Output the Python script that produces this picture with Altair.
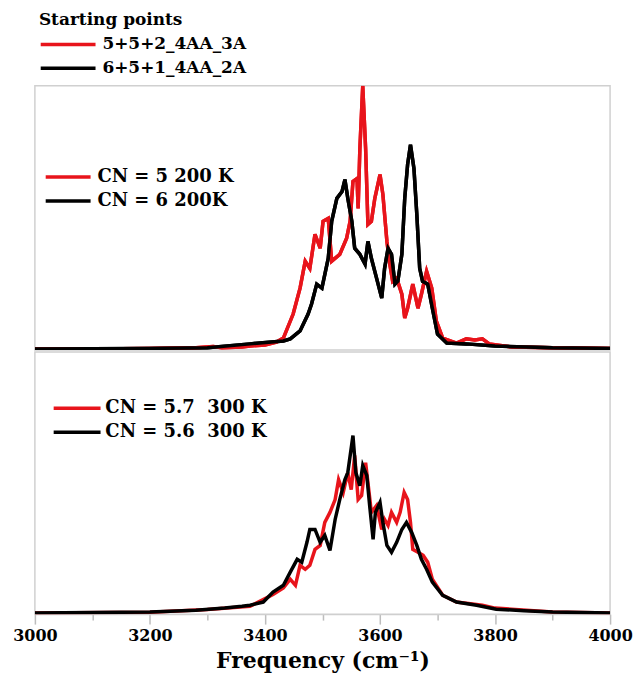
import altair as alt
import pandas as pd

RED = "#e8141b"
BLACK = "#000000"
FONT = "DejaVu Serif"

# ---- data ----
top_red_freq = [3000, 3100, 3200, 3280, 3310, 3325, 3360, 3374, 3400, 3420, 3432, 3449, 3461, 3470, 3478,
                3487, 3496, 3501, 3510, 3516, 3530, 3542, 3548, 3553, 3560, 3562, 3565, 3570, 3575,
                3579, 3585, 3591, 3600, 3605, 3612, 3617, 3622, 3629, 3638, 3643, 3648, 3657, 3666,
                3672, 3681, 3690, 3698, 3709, 3733, 3750, 3765, 3778, 3790, 3830, 3900, 4000]
top_red_int = [0.004, 0.004, 0.006, 0.008, 0.013, 0.008, 0.011, 0.015, 0.019, 0.030, 0.045, 0.136, 0.234, 0.336, 0.309,
               0.438, 0.385, 0.487, 0.498, 0.336, 0.362, 0.423, 0.487, 0.638, 0.649, 0.536, 0.762, 1.0, 0.762,
               0.475, 0.487, 0.574, 0.664, 0.589, 0.411, 0.325, 0.260, 0.272, 0.211, 0.121, 0.158, 0.249, 0.158,
               0.211, 0.298, 0.234, 0.109, 0.045, 0.026, 0.042, 0.038, 0.042, 0.023, 0.011, 0.008, 0.006]

top_black_freq = [3000, 3200, 3300, 3374, 3432, 3444, 3461, 3475, 3481, 3490, 3499, 3510, 3516, 3525, 3534,
                  3539, 3544, 3551, 3556, 3565, 3574, 3579, 3585, 3594, 3603, 3608, 3614, 3620, 3626, 3631,
                  3638, 3643, 3648, 3653, 3659, 3664, 3669, 3674, 3683, 3691, 3700, 3716, 3750, 3800, 3900, 4000]
top_black_int = [0.004, 0.006, 0.008, 0.023, 0.034, 0.042, 0.072, 0.136, 0.174, 0.249, 0.234, 0.347, 0.487, 0.574, 0.600,
                 0.645, 0.574, 0.487, 0.385, 0.362, 0.325, 0.411, 0.347, 0.272, 0.196, 0.309, 0.385, 0.362, 0.249, 0.260,
                 0.362, 0.574, 0.702, 0.777, 0.687, 0.513, 0.309, 0.260, 0.249, 0.158, 0.060, 0.026, 0.023, 0.015, 0.008, 0.006]

bot_red_freq = [3000, 3200, 3300, 3374, 3414, 3432, 3444, 3453, 3461, 3470, 3478, 3487, 3496, 3504, 3513, 3522,
                3528, 3536, 3544, 3550, 3556, 3562, 3568, 3575, 3579, 3585, 3594, 3603, 3608, 3614, 3620,
                3629, 3635, 3642, 3648, 3653, 3657, 3666, 3675, 3683, 3691, 3709, 3733, 3778, 3800, 3900, 4000]
bot_red_int = [0.004, 0.007, 0.018, 0.030, 0.075, 0.100, 0.133, 0.110, 0.186, 0.171, 0.186, 0.247, 0.262, 0.350, 0.388, 0.437,
               0.513, 0.464, 0.540, 0.475, 0.605, 0.437, 0.452, 0.578, 0.502, 0.388, 0.414, 0.323, 0.361, 0.338, 0.388,
               0.350, 0.388, 0.464, 0.437, 0.350, 0.247, 0.236, 0.224, 0.198, 0.133, 0.072, 0.046, 0.034, 0.023, 0.008, 0.004]

bot_black_freq = [3000, 3100, 3200, 3280, 3330, 3360, 3374, 3397, 3414, 3432, 3444, 3456, 3464, 3473, 3478, 3487,
                  3496, 3504, 3513, 3522, 3530, 3539, 3544, 3553, 3558, 3565, 3570, 3577, 3582, 3588, 3592,
                  3600, 3605, 3612, 3620, 3629, 3638, 3646, 3655, 3664, 3672, 3681, 3691, 3709, 3733, 3768,
                  3802, 3850, 3900, 4000]
bot_black_int = [0.004, 0.006, 0.008, 0.015, 0.023, 0.030, 0.034, 0.046, 0.084, 0.110, 0.160, 0.209, 0.198, 0.274, 0.323, 0.323,
                 0.274, 0.300, 0.243, 0.361, 0.437, 0.513, 0.540, 0.681, 0.540, 0.490, 0.567, 0.529, 0.414, 0.285, 0.388,
                 0.426, 0.350, 0.262, 0.236, 0.274, 0.323, 0.350, 0.312, 0.262, 0.209, 0.171, 0.122, 0.072, 0.046, 0.034,
                 0.019, 0.013, 0.008, 0.004]

start_labels = ["5+5+2_4AA_3A", "6+5+1_4AA_2A"]
top_labels = ["CN = 5 200 K", "CN = 6 200K"]
bot_labels = ["CN = 5.7 \u00a0300 K", "CN = 5.6 \u00a0300 K"]
x_ticks = list(range(3000, 4001, 100))


def frame(freqs, ints, cn, start):
    return pd.DataFrame({"freq": freqs, "inten": ints, "cn": cn, "start": start})


top_df = pd.concat([frame(top_red_freq, top_red_int, top_labels[0], start_labels[0]),
                    frame(top_black_freq, top_black_int, top_labels[1], start_labels[1])], ignore_index=True)
bot_df = pd.concat([frame(bot_red_freq, bot_red_int, bot_labels[0], start_labels[0]),
                    frame(bot_black_freq, bot_black_int, bot_labels[1], start_labels[1])], ignore_index=True)

xscale = alt.Scale(domain=[3000, 4000], nice=False, zero=False)
yscale = alt.Scale(domain=[0, 1], nice=False)


def legend(x, y, path, offset, size=18, title=None, row_pad=4):
    kw = dict(orient="none", legendX=x, legendY=y, padding=0,
              labelFont=FONT, labelFontSize=size, labelFontWeight="bold", labelColor="black",
              labelLimit=500, labelOffset=offset,
              symbolType=path, symbolSize=300, symbolStrokeWidth=3.5, rowPadding=row_pad)
    if title is None:
        kw["title"] = None
    else:
        kw.update(title=title, titleFont=FONT, titleFontSize=17, titleFontWeight="bold",
                  titleColor="black", titlePadding=5)
    return alt.Legend(**kw)


top_cn = alt.Chart(top_df).mark_line(strokeWidth=3.5, clip=True).encode(
    x=alt.X("freq:Q", scale=xscale, axis=None),
    y=alt.Y("inten:Q", scale=yscale, axis=None),
    color=alt.Color("cn:N", scale=alt.Scale(domain=top_labels, range=[RED, BLACK]),
                    legend=legend(9, 81, "M-1,0H4.2", 32.7)),
)
top_start = alt.Chart(top_df).mark_line(strokeWidth=3.5, clip=True).encode(
    x=alt.X("freq:Q", scale=xscale, axis=None),
    y=alt.Y("inten:Q", scale=yscale, axis=None),
    stroke=alt.Stroke("start:N", scale=alt.Scale(domain=start_labels, range=[RED, BLACK]),
                      legend=legend(4, -74, "M-1,0H5.35", 42.7, size=17, title="Starting points", row_pad=5)),
)
top = alt.layer(top_cn, top_start).properties(width=577, height=265)

bottom = alt.Chart(bot_df).mark_line(strokeWidth=3.5, clip=True).encode(
    x=alt.X("freq:Q", scale=xscale,
            axis=alt.Axis(values=x_ticks, format="d",
                          labelExpr="datum.value % 200 === 0 ? datum.label : ''",
                          labelFlush=False, labelOverlap=False,
                          labelFont=FONT, labelFontSize=16, labelFontWeight="bold", labelColor="black",
                          labelPadding=3,
                          tickSize={"condition": {"test": "datum.value % 200 === 0", "value": 10}, "value": 6},
                          tickColor="#bdbdbd", tickWidth=1.5, domainColor="#cfcfcf", domainWidth=1.5,
                          grid=False, title="Frequency (cm⁻¹)", titleFont=FONT, titleFontSize=22,
                          titleFontWeight="bold", titleColor="black", titlePadding=8)),
    y=alt.Y("inten:Q", scale=yscale, axis=None),
    color=alt.Color("cn:N", scale=alt.Scale(domain=bot_labels, range=[RED, BLACK]),
                    legend=legend(17, 46, "M-1,0H4.43", 32.7)),
).properties(width=577, height=263)

chart = alt.vconcat(top, bottom, spacing=0).resolve_scale(
    color="independent", stroke="independent"
).resolve_legend(color="independent", stroke="independent").properties(
    padding={"left": 11, "top": 10, "right": 0, "bottom": 0}
).configure_view(stroke="#d0d0d0", strokeWidth=1.5)

chart.save("out.html", embed_options={"renderer": "svg", "actions": False})
